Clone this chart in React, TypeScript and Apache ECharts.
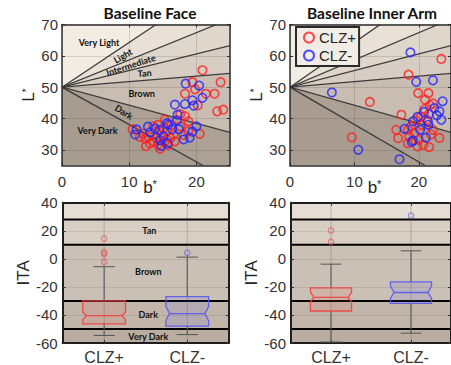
import React, { useEffect, useRef } from 'react';
import * as echarts from 'echarts';

// ---------- data ----------
const GROUPS = ['CLZ+', 'CLZ-'];

// Baseline Face scatter [b*, L*]
const FACE_CLZ_POS: number[][] = [
  [20.9, 55.4], [19.4, 51.6], [23.6, 51.6], [19.8, 49.3], [18.3, 47.9], [21.4, 47.9], [22.7, 47.9],
  [20.2, 44.2], [23.1, 42.3], [24.0, 42.8], [17.6, 41.4], [18.3, 40.7], [18.8, 39.1], [20.5, 35.1],
  [18.1, 34.8], [17.6, 37.5], [18.8, 35.9], [10.5, 36.5], [12.1, 35.2], [12.4, 33.6], [13.6, 37.5],
  [14.3, 38.0], [15.1, 36.9], [15.6, 35.9], [14.8, 34.8], [14.1, 33.8], [13.6, 32.7], [14.3, 31.6],
  [15.3, 32.7], [16.1, 33.8], [16.6, 34.8], [16.8, 32.7], [16.3, 38.0], [15.3, 39.6], [11.6, 34.1],
  [12.9, 34.1], [13.1, 32.1], [14.6, 30.4], [15.8, 31.5], [12.5, 31.2],
];
const FACE_CLZ_NEG: number[][] = [
  [18.4, 51.1], [20.4, 50.5], [20.9, 46.6], [19.4, 45.8], [19.6, 44.1], [18.3, 44.6], [16.8, 44.4],
  [17.2, 41.2], [17.1, 39.4], [15.6, 38.5], [15.8, 38.0], [20.0, 37.5], [19.4, 35.8], [19.0, 33.9],
  [18.1, 33.3], [17.4, 36.6], [11.1, 36.5], [10.9, 34.9], [12.8, 37.4], [13.1, 35.6], [13.8, 36.8],
  [14.5, 36.3], [15.1, 34.3], [14.6, 33.1], [14.8, 31.3], [15.7, 32.1], [16.4, 36.6],
];

// Baseline Inner Arm scatter [b*, L*]
const ARM_CLZ_POS: number[][] = [
  [23.5, 59.0], [18.4, 54.0], [19.9, 48.1], [21.5, 48.1], [21.0, 46.0], [21.7, 44.2], [22.2, 44.8],
  [12.4, 45.3], [17.3, 41.2], [16.5, 36.4], [16.8, 33.7], [18.3, 36.4], [18.5, 34.3], [19.3, 35.3],
  [20.0, 33.2], [19.8, 31.1], [20.7, 31.6], [21.6, 30.9], [23.2, 33.8], [21.9, 34.9], [20.5, 37.9],
  [21.2, 39.6], [9.6, 34.0], [18.3, 32.1], [18.8, 37.5], [22.2, 36.4], [20.3, 40.5], [19.5, 39.5],
  [21.6, 41.5], [20.9, 43.0],
];
const ARM_CLZ_NEG: number[][] = [
  [18.7, 61.1], [19.6, 51.7], [22.2, 52.2], [6.5, 48.3], [23.7, 45.5], [20.8, 42.1], [22.4, 43.3],
  [23.2, 42.3], [23.5, 39.6], [19.8, 40.5], [19.1, 39.1], [21.4, 39.1], [17.8, 36.7], [20.2, 36.4],
  [21.1, 33.9], [19.1, 33.0], [18.9, 32.5], [10.6, 30.0], [17.0, 27.0], [21.5, 38.0], [22.8, 41.0],
];

// ITA boxplots: [lower whisker, Q1, median, Q3, upper whisker]
const FACE_BOX: number[][] = [[-54.6, -46.4, -40.5, -30.0, -5.6], [-54.0, -48.0, -39.0, -27.0, 1.2]];
const FACE_NOTCH: number[][] = [[-43.3, -38.1], [-44.0, -34.0]];
const FACE_OUT_POS = [14.4, 4.7, 3.5, -2.1];
const FACE_OUT_NEG = [4.3];
const ARM_BOX: number[][] = [[-59.3, -37.2, -27.5, -20.7, -3.8], [-53.0, -31.8, -24.0, -16.5, 5.7]];
const ARM_NOTCH: number[][] = [[-30.6, -24.0], [-28.2, -19.3]];
const ARM_OUT_POS = [20.2, 12.0];
const ARM_OUT_NEG = [30.8];

// ITA category boundaries (degrees)
const ITA_EDGES = [90, 55, 41, 28, 10, -30, -50, -90];
const REGION_NAMES = ['Very Light', 'Light', 'Intermediate', 'Tan', 'Brown', 'Dark', 'Very Dark'];
const BAND_EDGES = [40, 28, 10, -30, -50, -60];

// axis ranges
const X_MAX = 25;
const Y_MIN = 25;
const Y_MAX = 70;
const APEX_L = 50;

// ---------- styles ----------
const FONT = 'Liberation Sans, Arial, Helvetica, sans-serif';
const LBL_FONT = 'Lato, Open Sans, sans-serif';
const AXIS_COLOR = '#2e2e2e';
const RED = '#ff1f1f';
const BLUE = '#2323ff';
const REGION_COLORS = ['#f3ece3', '#e9e1d7', '#e0d7cc', '#d7cdc2', '#c9bdb1', '#ada195', '#a89b8f'];
const BAND_COLORS = ['#e6ded5', '#d8cec4', '#cbc0b5', '#c2b6aa', '#b9ada1'];
const BOX_STROKE = ['rgba(240,64,64,0.9)', 'rgba(86,86,240,0.9)'];
const BOX_FILL = ['rgba(255,60,60,0.10)', 'rgba(70,70,255,0.10)'];
const OUT_COLOR = ['rgba(232,70,70,0.75)', 'rgba(80,80,232,0.75)'];

function hit(theta: number): number[] {
  const r = (theta * Math.PI) / 180;
  const c = Math.cos(r);
  const s = Math.sin(r);
  let t = Infinity;
  if (c > 1e-9) t = Math.min(t, X_MAX / c);
  if (s > 1e-9) t = Math.min(t, (Y_MAX - APEX_L) / s);
  if (s < -1e-9) t = Math.min(t, (Y_MIN - APEX_L) / s);
  return [c * t, APEX_L + s * t];
}

function wedge(hi: number, lo: number): number[][] {
  const pts = [[0, APEX_L], hit(hi)];
  const corners = [[0, Y_MAX], [X_MAX, Y_MAX], [X_MAX, Y_MIN], [0, Y_MIN]];
  corners.forEach((c) => {
    const a = (Math.atan2(c[1] - APEX_L, c[0]) * 180) / Math.PI;
    if (a < hi - 1e-6 && a > lo + 1e-6) pts.push(c);
  });
  pts.push(hit(lo));
  return pts;
}

function renderShade(params: any, api: any) {
  const i = api.value(0);
  const hi = ITA_EDGES[i];
  const lo = ITA_EDGES[i + 1];
  const pts = wedge(hi, lo).map((p) => api.coord(p));
  const children: any[] = [
    { type: 'polygon', z2: 0, shape: { points: pts }, style: { fill: REGION_COLORS[i] } },
  ];
  if (i < ITA_EDGES.length - 2) {
    const a = api.coord([0, APEX_L]);
    const b = api.coord(hit(lo));
    children.push({
      type: 'line', z2: 10,
      shape: { x1: a[0], y1: a[1], x2: b[0], y2: b[1] },
      style: { stroke: '#3b3b3b', lineWidth: 1.3 },
    });
  }
  return { type: 'group', children };
}

function renderBand(params: any, api: any) {
  const i = api.value(0);
  const cs = params.coordSys;
  const y1 = api.coord([0, BAND_EDGES[i]])[1];
  const y2 = api.coord([0, BAND_EDGES[i + 1]])[1];
  const children: any[] = [
    { type: 'rect', z2: 0, shape: { x: cs.x, y: y1, width: cs.width, height: y2 - y1 }, style: { fill: BAND_COLORS[i] } },
  ];
  if (i < BAND_EDGES.length - 2) {
    children.push({
      type: 'line', z2: 10,
      shape: { x1: cs.x, y1: y2, x2: cs.x + cs.width, y2: y2 },
      style: { stroke: '#000', lineWidth: 2 },
    });
  }
  return { type: 'group', children };
}

function renderBox(params: any, api: any) {
  const cat = api.value(0);
  const lo = api.value(1), q1 = api.value(2), med = api.value(3), q3 = api.value(4), hi = api.value(5);
  const nLo = api.value(6), nHi = api.value(7);
  const cs = params.coordSys;
  const cx = api.coord([cat, med])[0];
  const band = api.size([1, 0])[0];
  const w = band * 0.257;
  const inset = w * 0.17;
  const capW = w * 0.5;
  const Y = (v: number) => api.coord([cat, v])[1];
  const stroke = BOX_STROKE[cat];
  const fill = BOX_FILL[cat];
  const pts = [
    [cx - w, Y(q3)], [cx + w, Y(q3)], [cx + w, Y(nHi)], [cx + w - inset, Y(med)], [cx + w, Y(nLo)],
    [cx + w, Y(q1)], [cx - w, Y(q1)], [cx - w, Y(nLo)], [cx - w + inset, Y(med)], [cx - w, Y(nHi)],
  ];
  const whisk = { stroke: '#555', lineWidth: 1 };
  return {
    type: 'group',
    children: [
      { type: 'line', shape: { x1: cx, y1: cs.y, x2: cx, y2: cs.y + cs.height }, style: { stroke: 'rgba(80,80,80,0.3)', lineWidth: 1 } },
      { type: 'line', shape: { x1: cx, y1: Y(q3), x2: cx, y2: Y(hi) }, style: whisk },
      { type: 'line', shape: { x1: cx, y1: Y(q1), x2: cx, y2: Y(lo) }, style: whisk },
      { type: 'line', shape: { x1: cx - capW, y1: Y(hi), x2: cx + capW, y2: Y(hi) }, style: whisk },
      { type: 'line', shape: { x1: cx - capW, y1: Y(lo), x2: cx + capW, y2: Y(lo) }, style: whisk },
      { type: 'polygon', shape: { points: pts }, style: { fill, stroke, lineWidth: 1.3 } },
      { type: 'line', shape: { x1: cx - w + inset, y1: Y(med), x2: cx + w - inset, y2: Y(med) }, style: { stroke, lineWidth: 1.3 } },
    ],
  };
}

const richName = (letter: string, padding: number[]) => ({
  name: `{a|${letter}}{b|*}`,
  nameTextStyle: {
    padding,
    rich: {
      a: { fontSize: 17, fontFamily: FONT, color: '#262626' },
      b: { fontSize: 11, fontFamily: FONT, color: '#262626', verticalAlign: 'top' },
    },
  },
});

function buildOption() {
  const grids = [
    { left: 62, top: 24.5, width: 168, height: 141 },
    { left: 290, top: 24.5, width: 168, height: 141 },
    { left: 62.6, top: 202.7, width: 166.2, height: 141.6 },
    { left: 291, top: 202.7, width: 165, height: 141.6 },
  ];
  const line = (w: number, c: string) => ({ show: true, onZero: false, lineStyle: { color: c, width: w } });
  const tick = { show: true, inside: true, length: 3, lineStyle: { color: AXIS_COLOR, width: 1 } };
  const xAxes: any[] = [];
  const yAxes: any[] = [];
  for (let g = 0; g < 2; g++) {
    xAxes.push({
      type: 'value', gridIndex: g, min: 0, max: X_MAX, interval: 10, position: 'bottom', z: 2,
      axisLine: line(1.5, AXIS_COLOR), axisTick: tick,
      axisLabel: { margin: 8, fontSize: 15, color: '#333', fontFamily: FONT, showMaxLabel: false },
      splitLine: { show: true, lineStyle: { color: 'rgba(50,50,50,0.16)', width: 1 } },
      nameLocation: 'middle', nameGap: 13, nameMoveOverlap: false, ...richName('b', [0, 0, 0, 8]),
    });
    xAxes.push({
      type: 'value', gridIndex: g, min: 0, max: X_MAX, interval: 10, position: 'top', z: 2,
      axisLine: line(1.5, AXIS_COLOR), axisTick: tick, axisLabel: { show: false }, splitLine: { show: false },
    });
    yAxes.push({
      type: 'value', gridIndex: g, min: Y_MIN, max: Y_MAX, position: 'left', z: 2,
      axisLine: line(1.5, AXIS_COLOR), axisTick: tick,
      axisLabel: { margin: 4, fontSize: 15, color: '#333', fontFamily: FONT, showMinLabel: false },
      splitLine: { show: true, lineStyle: { color: 'rgba(50,50,50,0.16)', width: 1 } },
      nameLocation: 'middle', nameGap: 25, nameMoveOverlap: false, ...richName('L', [0, 0, 0, 0]),
    });
    yAxes.push({
      type: 'value', gridIndex: g, min: Y_MIN, max: Y_MAX, position: 'right', z: 2,
      axisLine: line(1.5, AXIS_COLOR), axisTick: tick, axisLabel: { show: false }, splitLine: { show: false },
    });
  }
  for (let g = 2; g < 4; g++) {
    xAxes.push({
      type: 'category', gridIndex: g, data: GROUPS, position: 'bottom', boundaryGap: true, z: 2,
      axisLine: line(2, '#1e1e1e'), axisTick: { ...tick, alignWithLabel: true },
      axisLabel: { margin: 6, fontSize: 16, color: '#333', fontFamily: FONT },
      splitLine: { show: false },
    });
    xAxes.push({
      type: 'category', gridIndex: g, data: GROUPS, position: 'top', boundaryGap: true, z: 2,
      axisLine: line(2, '#1e1e1e'), axisTick: { ...tick, alignWithLabel: true },
      axisLabel: { show: false }, splitLine: { show: false },
    });
    yAxes.push({
      type: 'value', gridIndex: g, min: -60, max: 40, interval: 20, position: 'left', z: 2,
      axisLine: line(2, '#1e1e1e'), axisTick: tick,
      axisLabel: { margin: 5, fontSize: 15, color: '#333', fontFamily: FONT },
      splitLine: { show: true, lineStyle: { color: 'rgba(60,60,60,0.13)', width: 1 } },
      name: 'ITA', nameLocation: 'middle', nameGap: 31, nameMoveOverlap: false,
      nameTextStyle: { fontSize: 17, color: '#262626', fontFamily: FONT },
    });
    yAxes.push({
      type: 'value', gridIndex: g, min: -60, max: 40, interval: 20, position: 'right', z: 2,
      axisLine: line(2, '#1e1e1e'), axisTick: tick, axisLabel: { show: false }, splitLine: { show: false },
    });
  }

  const ptStyle = (c: string) => ({ color: 'rgba(0,0,0,0)', borderColor: c, borderWidth: 1.6 });
  const shadeData = REGION_NAMES.map((_, i) => [i, APEX_L]);
  const bandData = BAND_COLORS.map((_, i) => [i, 0]);
  const boxRows = (box: number[][], notch: number[][]) => GROUPS.map((_, i) => [i, ...box[i], ...notch[i]]);
  const outliers = (vals: number[], cat: number, axis: number) => ({
    type: 'scatter', name: `${GROUPS[cat]} outliers`, xAxisIndex: axis, yAxisIndex: axis, z: 4,
    data: vals.map((v) => [cat, v]), symbol: 'circle', symbolSize: 5.5,
    itemStyle: { color: 'rgba(0,0,0,0)', borderColor: OUT_COLOR[cat], borderWidth: 1.2 },
  });
  const scatter = (name: string, data: number[][], axis: number, color: string) => ({
    type: 'scatter', name, xAxisIndex: axis, yAxisIndex: axis, z: 3, clip: true, data,
    symbol: 'circle', symbolSize: 8.5, itemStyle: ptStyle(color),
  });

  const txt = (text: string, x: number, y: number, rot = 0, font = `bold 9px ${LBL_FONT}`) => ({
    type: 'text', x, y, rotation: (rot * Math.PI) / 180, z: 100, silent: true,
    style: { text, font, fill: '#111', textAlign: 'center', textVerticalAlign: 'middle', align: 'center', verticalAlign: 'middle' },
  });

  return {
    animation: false,
    backgroundColor: '#ffffff',
    grid: grids,
    xAxis: xAxes,
    yAxis: yAxes,
    legend: {
      data: GROUPS, orient: 'vertical', left: 296, top: 27, itemWidth: 10, itemHeight: 10, itemGap: 3,
      padding: [3, 3, 3, 7], backgroundColor: '#f1ece5', borderColor: '#2a2a2a', borderWidth: 2,
      textStyle: { fontSize: 15, color: '#262626', fontFamily: FONT }, selectedMode: false, z: 10,
    },
    graphic: {
      elements: [
        txt('Baseline Face', 150, 13, 0, `bold 15.5px ${LBL_FONT}`),
        txt('Baseline Inner Arm', 372, 13, 0, `bold 15.5px ${LBL_FONT}`),
        txt('Very Light', 99, 42.5),
        txt('Light', 122.8, 55.8, 30),
        txt('Intermediate', 130.8, 65, 18),
        txt('Tan', 144.5, 73, 4),
        txt('Brown', 141.7, 93.3),
        txt('Dark', 124, 112, -32),
        txt('Very Dark', 97.5, 130),
        txt('Tan', 149.3, 230),
        txt('Brown', 148.3, 271.7),
        txt('Dark', 148.3, 314),
        txt('Very Dark', 148.3, 336.7),
      ],
    },
    series: [
      { type: 'custom', xAxisIndex: 0, yAxisIndex: 0, z: 1, silent: true, clip: true, renderItem: renderShade, data: shadeData },
      { type: 'custom', xAxisIndex: 2, yAxisIndex: 2, z: 1, silent: true, clip: true, renderItem: renderShade, data: shadeData },
      scatter('CLZ+', FACE_CLZ_POS, 0, RED),
      scatter('CLZ-', FACE_CLZ_NEG, 0, BLUE),
      scatter('CLZ+', ARM_CLZ_POS, 2, RED),
      scatter('CLZ-', ARM_CLZ_NEG, 2, BLUE),
      { type: 'custom', xAxisIndex: 4, yAxisIndex: 4, z: 1, silent: true, renderItem: renderBand, data: bandData },
      { type: 'custom', xAxisIndex: 6, yAxisIndex: 6, z: 1, silent: true, renderItem: renderBand, data: bandData },
      { type: 'custom', xAxisIndex: 4, yAxisIndex: 4, z: 3, silent: true, renderItem: renderBox, data: boxRows(FACE_BOX, FACE_NOTCH) },
      { type: 'custom', xAxisIndex: 6, yAxisIndex: 6, z: 3, silent: true, renderItem: renderBox, data: boxRows(ARM_BOX, ARM_NOTCH) },
      outliers(FACE_OUT_POS, 0, 4),
      outliers(FACE_OUT_NEG, 1, 4),
      outliers(ARM_OUT_POS, 0, 6),
      outliers(ARM_OUT_NEG, 1, 6),
    ],
  };
}

export default function App() {
  const ref = useRef<HTMLDivElement>(null);
  useEffect(() => {
    if (!ref.current) return;
    const chart = echarts.init(ref.current, null, { renderer: 'svg' });
    chart.setOption(buildOption() as any);
    return () => chart.dispose();
  }, []);
  return (
    <div
      ref={ref}
      style={{ position: 'fixed', left: 0, top: 0, width: 451, height: 365, background: '#fff', overflow: 'hidden' }}
    />
  );
}
